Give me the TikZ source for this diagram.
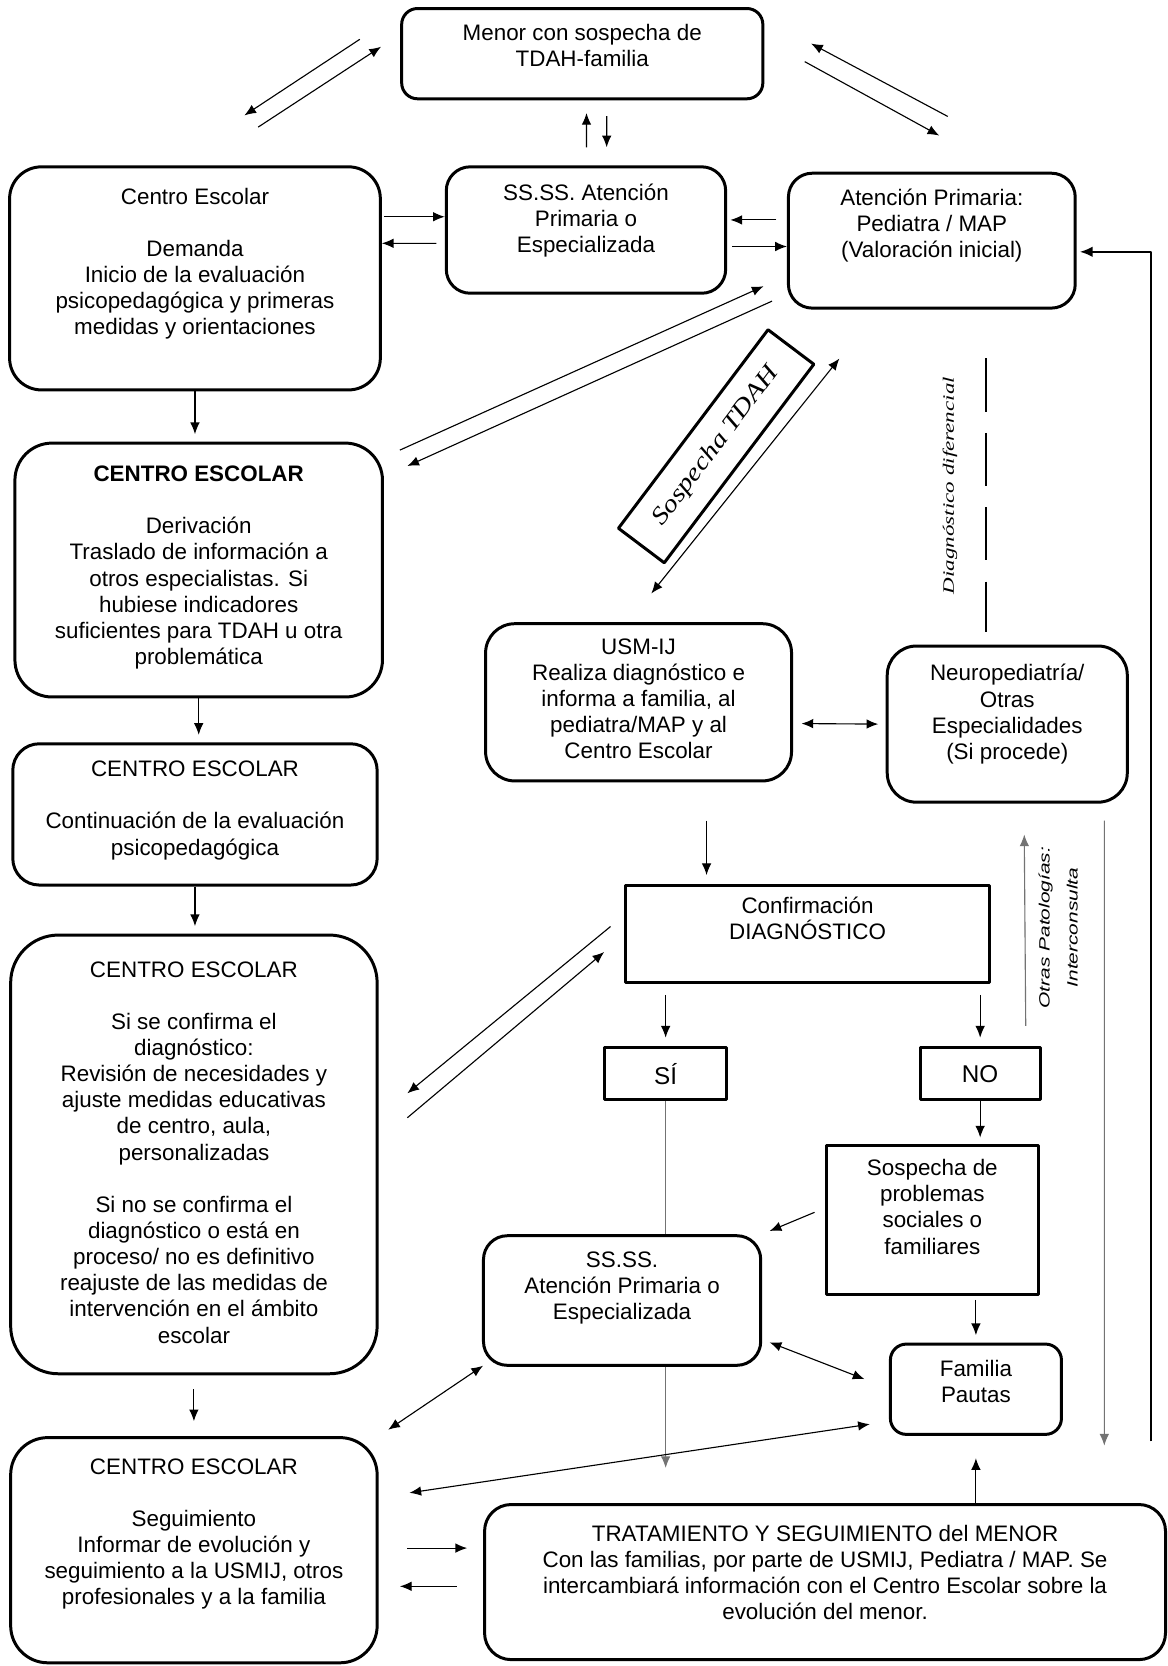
\documentclass[tikz,border=0pt]{standalone}
\usepackage{fontspec}
\setmainfont{Liberation Sans}
\newfontfamily\serifa{Liberation Serif}
\usetikzlibrary{arrows.meta}

\begin{document}
\begin{tikzpicture}[x=0.02cm, y=-0.02cm, line join=round,
		font=\fontsize{12}{14}\selectfont,
		caja/.style={draw, line width=1.6pt, rounded corners=#1, fill=white, align=center, inner sep=2pt},
		caja/.default=0.45cm,
		recta/.style={draw, line width=1.6pt, fill=white, align=center, inner sep=2pt},
		flecha/.style={line width=0.6pt, -{Latex[length=2.2mm,width=1.8mm]}},
		doble/.style={line width=0.6pt, {Latex[length=2.2mm,width=1.8mm]}-{Latex[length=2.2mm,width=1.8mm]}},
		gris/.style={draw=black!55, fill=black!55}]
	% Marco de la figura
	\useasboundingbox (0,0) rectangle (1099,1568);
	
	% Cajas de arriba
	\node[caja=0.3cm, minimum width=6.8cm, minimum height=1.7cm] (menor) at (548,50.5)
		{Menor con sospecha de\\TDAH-familia\\[-0.19cm]};
	\node[caja, minimum width=5.26cm, minimum height=2.38cm] (ssA) at (551.5,216.5)
		{SS.SS. Atención\\Primaria o\\Especializada\\[-0.05cm]};
	\node[caja, minimum width=5.4cm, minimum height=2.54cm] (ap) at (877,226.5)
		{Atención Primaria:\\Pediatra / MAP\\(Valoración inicial)\\[0.17cm]};
	
	% Columna del Centro Escolar
	\node[caja=0.6cm, minimum width=6.98cm, minimum height=4.2cm] (centroA) at (183.5,262)
		{Centro Escolar\\[14pt]Demanda\\Inicio de la evaluación\\psicopedagógica y primeras\\medidas y orientaciones\\[0.15cm]};
	\node[caja=0.7cm, minimum width=6.92cm, minimum height=4.78cm] (centroB) at (187,536.5)
		{\textbf{CENTRO ESCOLAR}\\[14pt]Derivación\\Traslado de información a\\otros especialistas. Si\\hubiese indicadores\\suficientes para TDAH u otra\\problemática\\[-0.31cm]};
	\node[caja=0.5cm, minimum width=6.86cm, minimum height=2.66cm] (centroC) at (183.5,766.5)
		{CENTRO ESCOLAR\\[14pt]Continuación de la evaluación\\psicopedagógica\\[-0.25cm]};
	\node[caja=0.9cm, minimum width=6.9cm, minimum height=8.26cm] (centroD) at (182.5,1086.5)
		{CENTRO ESCOLAR\\[14pt]Si se confirma el\\diagnóstico:\\Revisión de necesidades y\\ajuste medidas educativas\\de centro, aula,\\personalizadas\\[14pt]Si no se confirma el\\diagnóstico o está en\\proceso/ no es definitivo\\reajuste de las medidas de\\intervención en el ámbito\\escolar\\[-0.41cm]};
	\node[caja=0.7cm, minimum width=6.9cm, minimum height=4.24cm] (centroE) at (182.5,1459)
		{CENTRO ESCOLAR\\[14pt]Seguimiento\\Informar de evolución y\\seguimiento a la USMIJ, otros\\profesionales y a la familia\\[0.21cm]};
	
	% Cajas del centro y derecha
	\node[recta, rotate=53, minimum width=4.68cm, minimum height=1.08cm,
		font=\serifa\itshape\fontsize{13}{15}\selectfont] (sosp) at (674,420)
		{\scalebox{1.2}[1]{Sospecha TDAH}};
	\node[caja=0.55cm, minimum width=5.76cm, minimum height=2.96cm] (usm) at (601,661)
		{USM-IJ\\Realiza diagnóstico e\\informa a familia, al\\pediatra/MAP y al\\Centro Escolar\\[-0.35cm]};
	\node[caja=0.55cm, minimum width=4.52cm, minimum height=2.94cm] (neuro) at (948,681.5)
		{Neuropediatría/\\Otras\\Especialidades\\(Si procede)\\[-0.03cm]};
	\node[recta, minimum width=6.84cm, minimum height=1.84cm] (confirm) at (760,879)
		{Confirmación\\DIAGNÓSTICO\\[0.09cm]};
	\node[recta, minimum width=2.3cm, minimum height=0.98cm, font=\fontsize{13}{15}\selectfont] (si) at (626.5,1010.5) {SÍ};
	\node[recta, minimum width=2.26cm, minimum height=0.98cm, font=\fontsize{13}{15}\selectfont] (no) at (922.5,1010.5) {NO};
	\node[recta, minimum width=3.98cm, minimum height=2.8cm] (problemas) at (877.5,1148)
		{Sospecha de\\problemas\\sociales o\\familiares\\[0cm]};
	\node[caja, minimum width=5.22cm, minimum height=2.44cm] (ssB) at (585.5,1224)
		{SS.SS.\\Atención Primaria o\\Especializada\\[0.07cm]};
	\node[caja=0.3cm, minimum width=3.22cm, minimum height=1.7cm] (familia) at (918.5,1307.5)
		{Familia\\Pautas\\[-0.19cm]};
	\node[caja=0.5cm, minimum width=12.82cm, minimum height=2.92cm] (trat) at (776.5,1489)
		{TRATAMIENTO Y SEGUIMIENTO del MENOR\\Con las familias, por parte de USMIJ, Pediatra / MAP. Se\\intercambiará información con el Centro Escolar sobre la\\evolución del menor.\\[-0.13cm]};
	
	% Textos verticales
	\node[rotate=90, font=\serifa\itshape\fontsize{8.5}{10}\selectfont] (difer) at (894,457)
		{\scalebox{1.45}[1]{Diagnóstico diferencial}};
	\node[rotate=90, align=center, font=\itshape\fontsize{8}{15}\selectfont] (otras) at (996,873)
		{\scalebox{1.4}[1]{Otras Patologías:}\\\scalebox{1.4}[1]{Interconsulta}};
	
	% Flechas de arriba
	\draw[flecha] ([shift={(-38,-13.5)}]menor.west) -- ([shift={(46.5,-47)}]centroA.north);
	\draw[flecha] ([shift={(59.5,-36)}]centroA.north) -- ([shift={(-18,-6.5)}]menor.west);
	\draw[flecha] ([shift={(15,-52)}]ap.north) -- ([shift={(44,-9.5)}]menor.east);
	\draw[flecha] ([shift={(38,7.5)}]menor.east) -- ([shift={(7,-34)}]ap.north);
	\draw[flecha] ([shift={(0.5,-17)}]ssA.north) -- ([shift={(4,12)}]menor.south);
	\draw[flecha] ([shift={(23,15)}]menor.south) -- ([shift={(19.5,-17)}]ssA.north);
	\draw[flecha] ([shift={(2,-58)}]centroA.east) -- ([shift={(0,-12.5)}]ssA.west);
	\draw[flecha] ([shift={(-8,12.5)}]ssA.west) -- ([shift={(0,-33)}]centroA.east);
	\draw[flecha] ([shift={(-10,-19.5)}]ap.west) -- ([shift={(3,-9.5)}]ssA.east);
	\draw[flecha] ([shift={(5,15.5)}]ssA.east) -- ([shift={(0,5.5)}]ap.west);
	\draw[flecha] ([shift={(15,8)}]centroB.north east) -- ([shift={(-22,-22)}]ap.south west);
	\draw[flecha] ([shift={(-14,-8)}]ap.south west) -- ([shift={(22,23)}]centroB.north east);
	
	% Retorno a Atención Primaria
	\draw[line width=1pt, -{Latex[length=2.4mm,width=2mm]}] ([shift={(-15,-58)}]trat.north east) |- ([shift={(3,10.5)}]ap.east);
	
	% Columna izquierda hacia abajo
	\foreach \a/\b in {centroA/centroB, centroB/centroC, centroC/centroD}
		\draw[flecha, shorten >=1.4mm] (\a.south) -- (\a.south |- \b.north);
	\draw[flecha, shorten <=2.6mm, shorten >=2.8mm] (centroD.south) -- (centroD.south |- centroE.north);
	
	% Sospecha TDAH y diagnostico
	\draw[doble] ([shift={(12,-27)}]usm.north) -- ([shift={(-87,46)}]ap.south);
	\draw[line width=1.2pt, dash pattern=on 1cm off 0.4cm] ([shift={(51,46)}]ap.south) -- ([shift={(-20,-12)}]neuro.north);
	\draw[doble] ([shift={(8,20)}]usm.east) -- ([shift={(-7,0)}]neuro.west);
	\draw[flecha] ([shift={(64,36)}]usm.south) -- ([shift={(-95,-8)}]confirm.north);
	\draw[flecha] ([shift={(-13,-7)}]confirm.west) -- ([shift={(27,-57.5)}]centroD.east);
	\draw[flecha] ([shift={(27,-34.5)}]centroD.east) -- ([shift={(-19,17)}]confirm.west);
	\draw[flecha, shorten <=2mm, shorten >=1.6mm] (confirm.south -| si.north) -- (si.north);
	\draw[flecha, shorten <=2mm, shorten >=1.6mm] (confirm.south -| no.north) -- (no.north);
	
	% Rama del SI
	\draw[gris, line width=0.8pt] (si.south) -- (si.south |- ssB.north);
	\draw[gris, flecha, shorten >=6.6mm] (si.south |- ssB.south) -- (si.south |- trat.north);
	
	% Rama del NO
	\draw[flecha, shorten >=1.2mm] (no.south) -- (no.south |- problemas.north);
	\draw[flecha] ([shift={(-10,-7)}]problemas.west) -- ([shift={(7,-3)}]ssB.north east);
	\draw[flecha, shorten <=0.8mm, shorten >=1.4mm] (familia.north |- problemas.south) -- (familia.north);
	\draw[doble] ([shift={(7,-23)}]ssB.south east) -- ([shift={(-23,-9.5)}]familia.west);
	\draw[doble] ([shift={(1,-1)}]ssB.south west) -- ([shift={(9,-6)}]centroE.north east);
	\draw[doble] ([shift={(-18,-11)}]familia.south west) -- ([shift={(29,-54)}]centroE.east);
	\draw[flecha, shorten >=4.2mm] (familia.south |- trat.north) -- (familia.south);
	
	% Seguimiento y tratamiento
	\draw[flecha] ([shift={(27,-2)}]centroE.east) -- ([shift={(-15,-32)}]trat.west);
	\draw[flecha] ([shift={(-25,4)}]trat.west) -- ([shift={(20,34)}]centroE.east);
	
	% Lineas de la derecha
	\draw[gris, flecha] ([shift={(-15,-19)}]no.north east) -- ([shift={(16,29)}]neuro.south);
	\draw[gris, flecha] ([shift={(-23,16)}]neuro.south east) -- ([shift={(-59,-54)}]trat.north east);
\end{tikzpicture}
\end{document}
